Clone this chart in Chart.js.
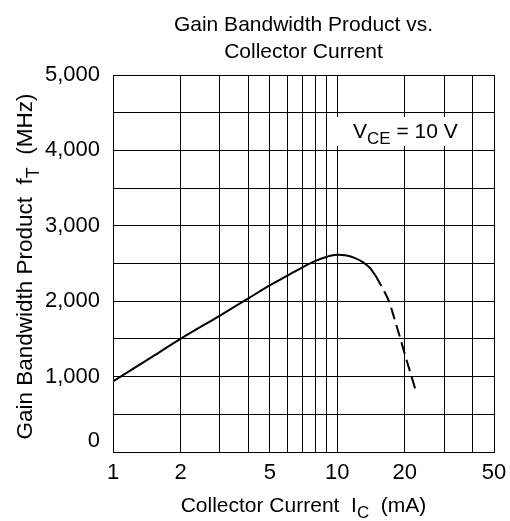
<!DOCTYPE html>
<html>
<head>
<meta charset="utf-8">
<script src="https://cdn.jsdelivr.net/npm/chart.js@4/dist/chart.umd.min.js"></script>
<style>
    html, body { margin: 0; padding: 0; background: #fff; }
    #wrap { width: 510px; height: 521px; }
</style>
</head>
<body>
<div id="wrap"><canvas id="myChart" width="510" height="521"></canvas></div>
<script>
// measured part of the curve (solid) and the extrapolated part (dashed)
const solidCurrent = [1, 1.5, 2, 3, 4, 5, 6, 7, 8, 9, 10, 11, 12, 13, 14, 14.8];
const solidFt = [935, 1265, 1500, 1810, 2035, 2210, 2340, 2450, 2535, 2590, 2615, 2605, 2572, 2518, 2440, 2340];
const dashCurrent = [14.8, 16, 17, 18, 19, 20, 21, 22.3];
const dashFt = [2340, 2160, 2000, 1765, 1530, 1300, 1090, 830];

const gridCurrent = [1, 2, 3, 4, 5, 6, 7, 8, 9, 10, 20, 30, 40, 50];
const currentLabels = [1, 2, 5, 10, 20, 50];
const ftLabels = [0, 1000, 2000, 3000, 4000, 5000];

const titleLines = ['Gain Bandwidth Product vs.', 'Collector Current'];
const xTitle = [['Collector Current  I'], ['C', 'sub'], ['  (mA)']];
const yTitle = [['Gain Bandwidth Product  f'], ['T', 'sub'], ['  (MHz)']];
const note = [['V'], ['CE', 'sub'], [' = 10 V']];

const FAMILY = '"Liberation Sans", Arial, Helvetica, sans-serif';

function fontFor(part, size) {
    return (part[1] === 'sub' ? Math.round(size * 0.8) : size) + 'px ' + FAMILY;
}

function richWidth(ctx, parts, size) {
    let w = 0;
    parts.forEach(p => {
        ctx.font = fontFor(p, size);
        w += ctx.measureText(p[0]).width;
    });
    return w;
}

// draws text with subscripts, x is the left start, y the baseline
function drawRich(ctx, parts, x, y, size) {
    ctx.textAlign = 'left';
    ctx.textBaseline = 'alphabetic';
    parts.forEach(p => {
        ctx.font = fontFor(p, size);
        ctx.fillText(p[0], x, p[1] === 'sub' ? y + size * 0.29 : y);
        x += ctx.measureText(p[0]).width;
    });
}

const textPlugin = {
    id: 'textPlugin',
    beforeDatasetsDraw(chart) {
        const {ctx, chartArea: a} = chart;
        ctx.save();
        ctx.fillStyle = '#fff';
        ctx.fillRect(a.right - 157, a.top + 42, 125, 29);
        ctx.fillStyle = '#000';
        drawRich(ctx, note, a.right - 141, a.top + 63, 21);
        ctx.restore();
    },
    afterDraw(chart) {
        const {ctx, chartArea: a} = chart;
        const cx = (a.left + a.right) / 2;
        ctx.save();
        ctx.fillStyle = '#000';
        ctx.font = '21px ' + FAMILY;
        ctx.textAlign = 'center';
        ctx.textBaseline = 'alphabetic';
        ctx.fillText(titleLines[0], cx, 30.5);
        ctx.fillText(titleLines[1], cx, 57.5);

        drawRich(ctx, xTitle, cx - richWidth(ctx, xTitle, 21) / 2, 512, 21);

        const cy = (a.top + a.bottom) / 2 + 3;
        ctx.translate(32, cy);
        ctx.rotate(-Math.PI / 2);
        drawRich(ctx, yTitle, -richWidth(ctx, yTitle, 22.5) / 2, 0, 22.5);
        ctx.restore();
    }
};

document.addEventListener('DOMContentLoaded', function () {
    Chart.defaults.font.family = FAMILY;
    Chart.defaults.font.size = 22;
    Chart.defaults.color = '#000';

    const ctx = document.getElementById('myChart').getContext('2d');
    const myChart = new Chart(ctx, {
        type: 'line',
        data: {
            datasets: [{
                label: 'fT',
                data: solidCurrent.map((c, i) => ({x: c, y: solidFt[i]})),
                borderColor: '#000',
                borderWidth: 2,
                pointRadius: 0,
                cubicInterpolationMode: 'monotone',
                fill: false
            }, {
                label: 'fT (extrapolated)',
                data: dashCurrent.map((c, i) => ({x: c, y: dashFt[i]})),
                borderColor: '#000',
                borderWidth: 2,
                borderDash: [12, 6],
                pointRadius: 0,
                cubicInterpolationMode: 'monotone',
                fill: false
            }]
        },
        options: {
            responsive: false,
            animation: false,
            layout: {
                padding: {top: 75, left: 0, right: 16, bottom: 0}
            },
            scales: {
                x: {
                    type: 'logarithmic',
                    min: 1,
                    max: 50,
                    afterFit: function (scale) {
                        scale.height = 69;
                        scale.paddingLeft = 0;
                        scale.paddingRight = 0;
                    },
                    afterBuildTicks: function (scale) {
                        scale.ticks = gridCurrent.map(v => ({value: v}));
                    },
                    ticks: {
                        autoSkip: false,
                        maxRotation: 0,
                        padding: 8,
                        callback: function (value) {
                            return currentLabels.includes(value) ? String(value) : '';
                        }
                    },
                    grid: {color: '#000', lineWidth: 1, drawTicks: false},
                    border: {color: '#000', width: 1}
                },
                y: {
                    min: 0,
                    max: 5000,
                    afterFit: function (scale) {
                        scale.width = 113;
                        scale.paddingTop = 0;
                        scale.paddingBottom = 0;
                    },
                    ticks: {
                        stepSize: 500,
                        autoSkip: false,
                        padding: 13,
                        font: {size: 22, lineHeight: 1},
                        callback: function (value) {
                            if (!ftLabels.includes(value)) return '';
                            const s = value.toLocaleString('en-US');
                            return value === 0 ? [s, ''] : s;
                        }
                    },
                    grid: {color: '#000', lineWidth: 1, drawTicks: false},
                    border: {color: '#000', width: 1}
                }
            },
            plugins: {
                legend: {display: false},
                title: {display: false},
                tooltip: {enabled: false}
            }
        },
        plugins: [textPlugin]
    });
});
</script>
</body>
</html>
